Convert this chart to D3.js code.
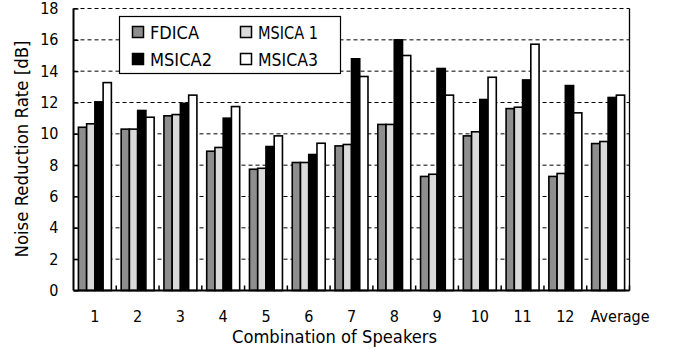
<!DOCTYPE html>
<html><head><meta charset="utf-8">
<script src="https://cdn.jsdelivr.net/npm/d3@7"></script>
<style>body{margin:0;background:#fff}svg{display:block}text{font-family:"DejaVu Sans Condensed","DejaVu Sans",sans-serif;fill:#000}</style>
</head><body><svg id="c" width="677" height="349"></svg>
<script>
const categories = ["1","2","3","4","5","6","7","8","9","10","11","12","Average"];
const seriesNames = ["FDICA","MSICA1","MSICA2","MSICA3"];
const seriesLabels = ["FDICA","MSICA 1","MSICA2","MSICA3"];
const fdica  = [10.42,10.30,11.15,8.89,7.74,8.17,9.23,10.60,7.28,9.87,11.61,7.28,9.38];
const msica1 = [10.64,10.30,11.23,9.13,7.80,8.17,9.32,10.60,7.42,10.13,11.70,7.47,9.51];
const msica2 = [12.04,11.49,11.95,11.00,9.19,8.68,14.79,16.00,14.17,12.19,13.44,13.08,12.32];
const msica3 = [13.27,11.06,12.47,11.74,9.87,9.40,13.66,15.00,12.47,13.61,15.72,11.34,12.47];
const fills = ["#8e8e8e","#dadada","#000000","#ffffff"];
const yTicks = [0,2,4,6,8,10,12,14,16,18];

const values = [fdica, msica1, msica2, msica3];
const svg = d3.select("#c");
const L = 73.5, R = 629.5, T = 8.5, B = 290.5;
const x0 = d3.scaleBand().domain(categories).range([L, R]).padding(0);
const pad = 4.9;
const x1 = d3.scaleBand().domain(seriesNames).range([pad, x0.bandwidth() - pad]).padding(0);
const y = d3.scaleLinear().domain([0, 18]).range([B, T]);

// gridlines
svg.append("g").selectAll("line").data(yTicks.filter(d => d > 0)).join("line")
  .attr("x1", L).attr("x2", R).attr("y1", d => y(d)).attr("y2", d => y(d))
  .attr("stroke", "#000").attr("stroke-width", 1).attr("stroke-dasharray", "4,3");

// bars
const g = svg.append("g");
categories.forEach((c, i) => {
  seriesNames.forEach((s, j) => {
    g.append("rect")
      .attr("x", x0(c) + x1(s))
      .attr("y", y(values[j][i]))
      .attr("width", x1.bandwidth())
      .attr("height", y(0) - y(values[j][i]))
      .attr("fill", fills[j]).attr("stroke", "#000").attr("stroke-width", 1.6);
  });
});

// axes frame
svg.append("line").attr("x1", L).attr("x2", L).attr("y1", T).attr("y2", B).attr("stroke", "#000").attr("stroke-width", 2);
svg.append("line").attr("x1", R).attr("x2", R).attr("y1", T).attr("y2", B).attr("stroke", "#000").attr("stroke-width", 1.3);
svg.append("line").attr("x1", L).attr("x2", R).attr("y1", B).attr("y2", B).attr("stroke", "#000").attr("stroke-width", 2);

// y axis ticks (inward) and labels
const yAxis = d3.axisRight(y).tickValues(yTicks).tickSize(5).tickFormat(d3.format("d"));
const ya = svg.append("g").attr("transform", `translate(${L},0)`).call(yAxis);
ya.select(".domain").remove();
ya.selectAll(".tick line").attr("stroke", "#000").attr("stroke-width", 1.3);
ya.selectAll(".tick text").attr("x", -15).attr("text-anchor", "end").attr("font-size", 16)
  .attr("font-family", "DejaVu Sans Condensed, DejaVu Sans, sans-serif");

// x axis: category boundary ticks (inward) and labels
const bounds = categories.slice(1).map(c => x0(c)).concat([R]);
svg.append("g").selectAll("line").data(bounds).join("line")
  .attr("x1", d => d).attr("x2", d => d).attr("y1", B).attr("y2", B - 5)
  .attr("stroke", "#000").attr("stroke-width", 1.5);
svg.append("g").selectAll("text").data(categories).join("text")
  .attr("x", d => x0(d) + x0.bandwidth() / 2 + (d === "Average" ? 12 : 0)).attr("y", 321.5)
  .attr("text-anchor", "middle").attr("font-size", 16)
  .each(function(d) { if (d === "Average") d3.select(this).attr("textLength", 59).attr("lengthAdjust", "spacingAndGlyphs"); })
  .text(d => d);

// axis titles
svg.append("text").attr("x", 334.5).attr("y", 343).attr("text-anchor", "middle")
  .attr("font-size", 17.5).attr("textLength", 205).attr("lengthAdjust", "spacingAndGlyphs")
  .text("Combination of Speakers");
svg.append("text").attr("transform", "translate(27.5,149) rotate(-90)").attr("text-anchor", "middle")
  .attr("font-size", 18).attr("textLength", 217).attr("lengthAdjust", "spacingAndGlyphs")
  .text("Noise Reduction Rate [dB]");

// legend
const lg = svg.append("g");
lg.append("rect").attr("x", 119.5).attr("y", 16.5).attr("width", 221).attr("height", 57)
  .attr("fill", "#fff").attr("stroke", "#000").attr("stroke-width", 1.2);
const legPos = [[132, 32], [240, 32], [132, 59], [240, 59]];
const legLen = [49, 60, 62, 60];
seriesNames.forEach((s, j) => {
  const [lx, ly] = legPos[j];
  lg.append("rect").attr("x", lx + 0.5).attr("y", ly - 5.5).attr("width", 11).attr("height", 11)
    .attr("fill", fills[j]).attr("stroke", "#000").attr("stroke-width", 1.5);
  lg.append("text").attr("x", lx + 18).attr("y", ly + 6.5).attr("font-size", 18)
    .attr("textLength", legLen[j]).attr("lengthAdjust", "spacingAndGlyphs")
    .text(seriesLabels[j]);
});
</script></body></html>
